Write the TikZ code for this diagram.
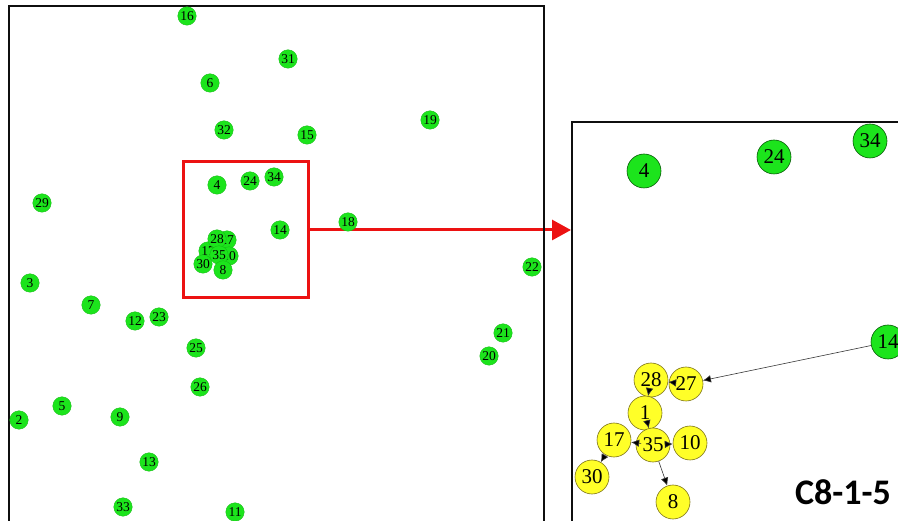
\documentclass[tikz,border=0pt]{standalone}
\usepackage{fontspec}
\setmainfont{Liberation Serif}
\newfontfamily\tagfont{Carlito}
\usepackage{tikz}
\usetikzlibrary{arrows.meta}
\definecolor{figline}{RGB}{15,15,15}
\definecolor{ngreen}{RGB}{28,228,28}
\definecolor{ngreenb}{RGB}{10,150,10}
\definecolor{nyellow}{RGB}{255,255,40}
\definecolor{nyellowb}{RGB}{125,115,25}
\definecolor{zred}{RGB}{236,18,18}
\definecolor{edgegray}{RGB}{55,55,55}
\tikzset{
  pnl/.style ={draw=figline, line width=2pt, inner sep=0pt},
  gs/.style  ={circle, fill=ngreen, draw=ngreen!80!black, line width=0.3pt, minimum size=18.5pt, inner sep=0pt, font=\fontsize{13.5}{13.5}\selectfont},
  gb/.style  ={circle, fill=ngreen, draw=ngreenb!60!black, line width=0.6pt, minimum size=34pt, inner sep=0pt, font=\fontsize{21}{21}\selectfont},
  yb/.style  ={circle, fill=nyellow, draw=nyellowb, line width=0.6pt, minimum size=34pt, inner sep=0pt, font=\fontsize{21}{21}\selectfont},
  ed/.style  ={draw=edgegray, line width=0.6pt, -{Latex[length=8pt,width=7.5pt,fill=black]}},
  zbox/.style={draw=zred, line width=3pt, inner sep=0pt},
  zptr/.style={draw=zred, line width=3pt, -{Triangle[length=19pt,width=20pt]}},
  tag/.style ={font=\tagfont\bfseries\fontsize{36}{36}\selectfont, inner sep=0pt},
}
\begin{document}
\begin{tikzpicture}[x=1pt,y=-1pt]
  \useasboundingbox (0,0) rectangle (898,521);
  \node[pnl, minimum width=360pt, minimum height=420pt] (pr) at (752,332) {};
  \node[zbox, minimum width=125pt, minimum height=136pt] (zsrc) at (245.5,230) {};
  \draw[zptr] (zsrc.east) -- (zsrc.east -| pr.west);
  \node[pnl, minimum width=535pt, minimum height=534pt] (pl) at (276,273) {};
  \node[gs] (n16) at (187,16) {16};
  \node[gs] (n31) at (288,59) {31};
  \node[gs] (n6) at (210,83) {6};
  \node[gs] (n32) at (224,130) {32};
  \node[gs] (n15) at (307,135) {15};
  \node[gs] (n19) at (430,120) {19};
  \node[gs] (n4) at (217,185) {4};
  \node[gs] (n24) at (250,181) {24};
  \node[gs] (n34) at (274,177) {34};
  \node[gs] (n29) at (42,203) {29};
  \node[gs] (n14) at (280,230) {14};
  \node[gs] (n18) at (348,222) {18};
  \node[gs] (n1) at (219,247) {1};
  \node[gs] (n27) at (227,240) {27};
  \node[gs] (n10) at (229,256) {10};
  \node[gs] (n17) at (208,251) {17};
  \node[gs] (n28) at (217,239) {28};
  \node[gs] (n30) at (203,264) {30};
  \node[gs] (n35) at (219,255) {35};
  \node[gs] (n8) at (223,270) {8};
  \node[gs] (n3) at (30,283) {3};
  \node[gs] (n7) at (91,305) {7};
  \node[gs] (n12) at (135,321) {12};
  \node[gs] (n23) at (159,317) {23};
  \node[gs] (n22) at (532,267) {22};
  \node[gs] (n25) at (196,348) {25};
  \node[gs] (n21) at (503,333) {21};
  \node[gs] (n20) at (489,356) {20};
  \node[gs] (n26) at (200,387) {26};
  \node[gs] (n5) at (62,406) {5};
  \node[gs] (n2) at (19,420) {2};
  \node[gs] (n9) at (120,417) {9};
  \node[gs] (n13) at (149,462) {13};
  \node[gs] (n33) at (123,507) {33};
  \node[gs] (n11) at (235,512) {11};
  \node[gb] (z4) at (644,171) {4};
  \node[gb] (z24) at (774,157) {24};
  \node[gb] (z34) at (870,141) {34};
  \node[gb] (z14) at (888,342) {14};
  \node[yb] (z28) at (651,380) {28};
  \node[yb] (z27) at (686,384) {27};
  \node[yb] (z1) at (645,413) {1};
  \node[yb] (z17) at (614,440) {17};
  \node[yb] (z35) at (653,445) {35};
  \node[yb] (z10) at (690,443) {10};
  \node[yb] (z30) at (592,477) {30};
  \node[yb] (z8) at (673,502) {8};
  \draw[ed] (z14) -- (z27);
  \draw[ed, shorten <=12pt] (z27.center) -- (z28);
  \draw[ed, shorten <=12pt] (z28.center) -- (z1);
  \draw[ed, shorten <=12pt] (z1.center) -- (z35);
  \draw[ed, shorten <=12pt] (z35.center) -- (z17);
  \draw[ed, shorten <=12pt] (z35.center) -- (z10);
  \draw[ed] (z17) -- (z30);
  \draw[ed] (z35) -- (z8);
  \node[tag] (ttl) at (843,492) {C8-1-5};
\end{tikzpicture}
\end{document}
